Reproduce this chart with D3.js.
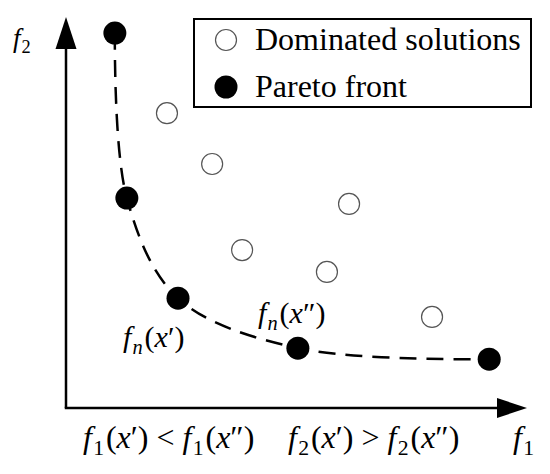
<!DOCTYPE html>
<html>
<head>
<meta charset="utf-8">
<script src="https://cdn.jsdelivr.net/npm/d3@7"></script>
<style>
    svg text, svg tspan { font-family: "Times New Roman", "Liberation Serif", Tinos, Times !important; }
</style>
</head>
<body style="margin:0">
<svg id="chart" width="550" height="474" font-family="Times New Roman"></svg>
<script>
    // objective values (f1, f2), axes run 0..10
    var paretoF1 = [1.06, 1.32, 2.43, 5.03, 9.18];
    var paretoF2 = [9.59, 5.37, 2.81, 1.53, 1.25];
    var dominatedF1 = [2.19, 3.17, 6.14, 3.82, 5.66, 7.94];
    var dominatedF2 = [7.54, 6.24, 5.22, 4.04, 3.48, 2.33];
    var legendLabels = ['Dominated solutions', 'Pareto front'];

    var svg = d3.select('#chart');

    var x = d3.scaleLinear().domain([0, 10]).range([66, 527]);
    var y = d3.scaleLinear().domain([0, 10]).range([408, 17]);

    var pareto = paretoF1.map(function (d, i) { return [d, paretoF2[i]]; });
    var dominated = dominatedF1.map(function (d, i) { return [d, dominatedF2[i]]; });

    // axes with arrow heads
    var x0 = x(0), y0 = y(0), xEnd = x(10), yEnd = y(10);
    svg.append('line')
        .attr('x1', x0).attr('y1', y0)
        .attr('x2', x0).attr('y2', yEnd + 20)
        .attr('stroke', '#000').attr('stroke-width', 2.5);
    svg.append('path')
        .attr('d', 'M' + x0 + ',' + yEnd + 'L' + (x0 - 10.5) + ',' + (yEnd + 32) + 'L' + (x0 + 10.5) + ',' + (yEnd + 32) + 'Z')
        .attr('fill', '#000');
    svg.append('line')
        .attr('x1', x0 - 1.25).attr('y1', y0)
        .attr('x2', xEnd - 20).attr('y2', y0)
        .attr('stroke', '#000').attr('stroke-width', 2.5);
    svg.append('path')
        .attr('d', 'M' + xEnd + ',' + y0 + 'L' + (xEnd - 30) + ',' + (y0 - 10) + 'L' + (xEnd - 30) + ',' + (y0 + 10) + 'Z')
        .attr('fill', '#000');

    // dashed front curve
    var line = d3.line()
        .x(function (d) { return x(d[0]); })
        .y(function (d) { return y(d[1]); })
        .curve(d3.curveCatmullRom.alpha(0.5));
    svg.append('path')
        .datum(pareto)
        .attr('d', line)
        .attr('fill', 'none')
        .attr('stroke', '#000')
        .attr('stroke-width', 2.5)
        .attr('stroke-dasharray', '17,10');

    svg.selectAll('.dom')
        .data(dominated)
        .enter().append('circle')
        .attr('class', 'dom')
        .attr('cx', function (d) { return x(d[0]); })
        .attr('cy', function (d) { return y(d[1]); })
        .attr('r', 10.5)
        .attr('fill', '#fff')
        .attr('stroke', '#555')
        .attr('stroke-width', 1.2);

    svg.selectAll('.par')
        .data(pareto)
        .enter().append('circle')
        .attr('class', 'par')
        .attr('cx', function (d) { return x(d[0]); })
        .attr('cy', function (d) { return y(d[1]); })
        .attr('r', 11.5)
        .attr('fill', '#000');

    // legend
    svg.append('rect')
        .attr('x', 194).attr('y', 19)
        .attr('width', 337).attr('height', 88)
        .attr('fill', 'none')
        .attr('stroke', '#000')
        .attr('stroke-width', 2);
    legendLabels.forEach(function (d, i) {
        var cy = 40 + i * 47;
        svg.append('circle')
            .attr('cx', 226).attr('cy', cy)
            .attr('r', i === 0 ? 10.5 : 11.5)
            .attr('fill', i === 0 ? '#fff' : '#000')
            .attr('stroke', i === 0 ? '#555' : 'none')
            .attr('stroke-width', 1.2);
        svg.append('text')
            .attr('x', 255).attr('y', cy + 10)
            .attr('font-size', 32)
            .text(d);
    });

    // math labels: parts are [text, italic, subscript, back-up]
    function mathLabel(px, py, size, parts) {
        var t = svg.append('text')
            .attr('x', px).attr('y', py)
            .attr('font-size', size);
        parts.forEach(function (p) {
            var s = t.append('tspan').text(p[0]);
            if (p[1]) s.attr('font-style', 'italic');
            if (p[2]) {
                s.attr('font-size', size * 0.68).attr('dy', size * 0.22).attr('dx', size * 0.04);
            }
            if (p[3]) s.attr('dy', -size * 0.22).attr('dx', size * 0.06);
        });
        return t;
    }

    mathLabel(13, 47, 27, [['f', true], ['2', false, true]]);
    mathLabel(513, 448, 32, [['f', true], ['1', false, true]]);

    mathLabel(123, 347, 30, [['f', true], ['n', true, true], ['(', false, false, true], ['x', true], ['\u2032', false], [')', false]]);
    mathLabel(258, 323, 30, [['f', true], ['n', true, true], ['(', false, false, true], ['x', true], ['\u2033', false], [')', false]]);

    mathLabel(83, 448, 32, [['f', true], ['1', false, true], ['(', false, false, true], ['x', true], ['\u2032', false], [') < ', false],
        ['f', true], ['1', false, true], ['(', false, false, true], ['x', true], ['\u2033', false], [')', false]]);
    mathLabel(288, 448, 32, [['f', true], ['2', false, true], ['(', false, false, true], ['x', true], ['\u2032', false], [') > ', false],
        ['f', true], ['2', false, true], ['(', false, false, true], ['x', true], ['\u2033', false], [')', false]]);
</script>
</body>
</html>
